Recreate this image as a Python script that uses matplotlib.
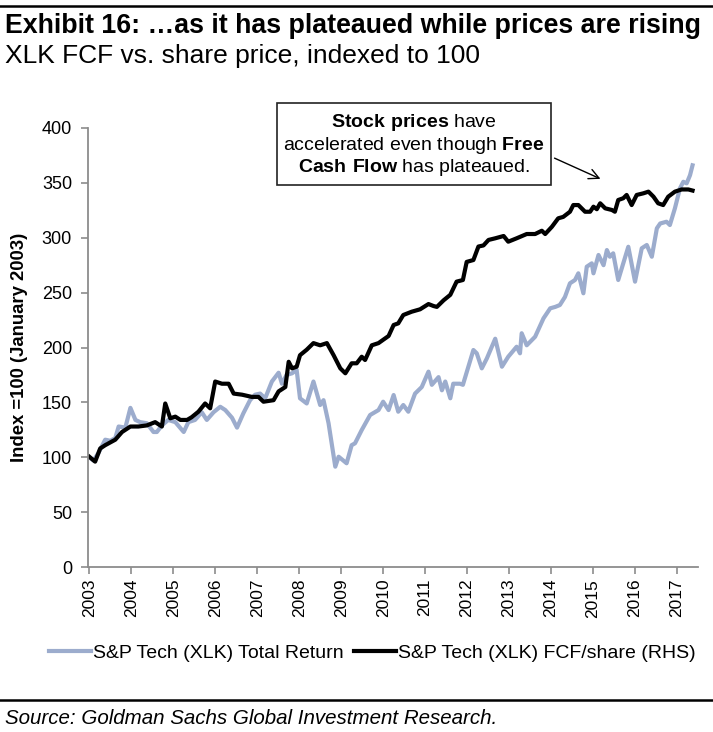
import matplotlib
matplotlib.use("Agg")
import matplotlib.pyplot as plt
from matplotlib.lines import Line2D
from matplotlib.patches import Rectangle

plt.rcParams["font.family"] = ["Liberation Sans", "DejaVu Sans"]
plt.rcParams["mathtext.fontset"] = "custom"
plt.rcParams["mathtext.rm"] = "Liberation Sans"
plt.rcParams["mathtext.bf"] = "Liberation Sans:bold"

# S&P Tech (XLK) Total Return, indexed to 100 (Jan 2003)
tr_dates = [2003.00, 2003.10, 2003.22, 2003.38, 2003.50, 2003.62, 2003.70, 2003.86, 2003.98,
            2004.10, 2004.21, 2004.37, 2004.53, 2004.61, 2004.73, 2004.88, 2005.05, 2005.25,
            2005.36, 2005.52, 2005.68, 2005.80, 2005.96, 2006.12, 2006.24, 2006.40, 2006.52,
            2006.67, 2006.83, 2006.95, 2007.07, 2007.19, 2007.35, 2007.51, 2007.59, 2007.70,
            2007.83, 2007.94, 2008.02, 2008.18, 2008.34, 2008.50, 2008.58, 2008.70, 2008.86,
            2008.94, 2009.13, 2009.25, 2009.33, 2009.49, 2009.69, 2009.89, 2010.00, 2010.13,
            2010.25, 2010.36, 2010.48, 2010.60, 2010.76, 2010.92, 2011.08, 2011.16, 2011.32,
            2011.40, 2011.48, 2011.60, 2011.67, 2011.83, 2011.90, 2012.15, 2012.23, 2012.35,
            2012.47, 2012.67, 2012.83, 2012.98, 2013.18, 2013.26, 2013.30, 2013.42, 2013.62,
            2013.82, 2013.98, 2014.10, 2014.21, 2014.33, 2014.45, 2014.57, 2014.65, 2014.77,
            2014.85, 2014.97, 2015.01, 2015.13, 2015.25, 2015.33, 2015.40, 2015.48, 2015.60,
            2015.72, 2015.84, 2016.00, 2016.16, 2016.28, 2016.40, 2016.52, 2016.60, 2016.75,
            2016.83, 2016.95, 2017.07, 2017.15, 2017.23, 2017.31, 2017.37]
tr_vals = [100, 97, 104, 116, 115, 117.5, 128, 127, 145,
           134, 132, 131, 123, 123, 129, 134, 132, 123,
           132, 134, 141, 134, 141, 146, 143, 136, 127,
           140, 152, 157, 158, 153.7, 169, 177, 167, 175,
           176.5, 179.5, 153.7, 149, 169, 147.6, 152, 131, 91.4,
           100.5, 94.5, 111, 112.7, 124.8, 138.5, 143, 150.6, 143,
           156.7, 141.5, 147.6, 141.5, 158, 164, 178, 166, 173,
           161, 169, 153.7, 167, 167, 166, 197.7, 194.7, 181,
           190, 208, 182.5, 191.6, 200.7, 194.7, 213, 202, 209.8,
           226.6, 235.7, 237, 238.7, 246, 258.5, 261.5, 267.6, 249.4,
           273.6, 276.7, 267.6, 284.3, 275, 288.8, 282.7, 285.8, 261.5,
           276.7, 291.8, 260, 290.4, 293.4, 282.7, 308.6, 313, 314.6,
           311.6, 326.8, 345, 351, 349.6, 357, 366]

# S&P Tech (XLK) FCF/share, indexed to 100 (Jan 2003)
fcf_dates = [2003.00, 2003.14, 2003.26, 2003.38, 2003.62, 2003.78, 2003.98, 2004.17, 2004.37,
             2004.57, 2004.73, 2004.81, 2004.93, 2005.05, 2005.17, 2005.33, 2005.44, 2005.60,
             2005.76, 2005.88, 2006.00, 2006.16, 2006.32, 2006.44, 2006.64, 2006.87, 2007.03,
             2007.15, 2007.39, 2007.51, 2007.67, 2007.75, 2007.83, 2007.94, 2008.02, 2008.18,
             2008.34, 2008.50, 2008.66, 2008.82, 2008.98, 2009.10, 2009.25, 2009.37, 2009.49,
             2009.57, 2009.73, 2009.89, 2010.00, 2010.13, 2010.25, 2010.36, 2010.48, 2010.68,
             2010.88, 2011.08, 2011.20, 2011.28, 2011.44, 2011.60, 2011.75, 2011.90, 2011.99,
             2012.15, 2012.27, 2012.39, 2012.51, 2012.67, 2012.87, 2012.98, 2013.18, 2013.42,
             2013.62, 2013.78, 2013.86, 2014.02, 2014.17, 2014.29, 2014.45, 2014.53, 2014.65,
             2014.81, 2014.93, 2015.01, 2015.09, 2015.17, 2015.29, 2015.45, 2015.52, 2015.60,
             2015.72, 2015.80, 2015.92, 2016.04, 2016.20, 2016.32, 2016.44, 2016.55, 2016.67,
             2016.79, 2016.95, 2017.11, 2017.27, 2017.37]
fcf_vals = [100.5, 96, 108, 111, 116, 123, 128, 128, 129,
            132, 128, 149, 135.5, 137, 134, 134, 136.5, 141.5,
            149, 144.6, 169, 167, 167, 158, 157, 155, 155,
            150.6, 152, 160, 164, 187, 181, 182.5, 193, 198,
            204, 202, 204, 193, 181, 176.5, 185.6, 185.6, 191.6,
            188.6, 202, 204, 207, 210.5, 220.5, 222, 229.6, 232.6,
            234.8, 239.6, 237.8, 237, 243, 248, 260, 261.5, 278,
            279.7, 292, 293, 298, 299.5, 301.6, 296.4, 299.5, 303.4,
            303.4, 306.4, 303.4, 310, 317.7, 319, 323.7, 329.8, 329.8,
            323.7, 323.7, 328.3, 326, 331.4, 326.8, 325.3, 323.7, 334.4,
            336, 339, 329.8, 339, 340.5, 342, 337.4, 331.4, 329.8,
            337.4, 342, 344, 344, 343]

years = list(range(2003, 2018))
yticks = list(range(0, 401, 50))

W, H = 713, 732
fig = plt.figure(figsize=(W / 100, H / 100), dpi=100)
ax = fig.add_axes([88 / W, 165 / H, 610 / W, 439 / H])

ax.plot(tr_dates, tr_vals, color="#9caccd", lw=3.0, label="S&P Tech (XLK) Total Return",
        solid_joinstyle="round")
ax.plot(fcf_dates, fcf_vals, color="black", lw=3.0, label="S&P Tech (XLK) FCF/share (RHS)",
        solid_joinstyle="round")

ax.set_xlim(2002.97, 2017.5)
ax.set_ylim(0, 400)
ax.set_xticks(years)
ax.set_xticklabels([str(y) for y in years], rotation=90, fontsize=12.5)
ax.set_yticks(yticks)
ax.set_yticklabels([str(v) for v in yticks], fontsize=13)
for s in ["top", "right"]:
    ax.spines[s].set_visible(False)
for s in ["left", "bottom"]:
    ax.spines[s].set_color("#8c8c8c")
    ax.spines[s].set_linewidth(1.3)
ax.tick_params(axis="both", colors="#8c8c8c", length=5, width=1.2, labelcolor="black")
ax.tick_params(axis="y", pad=6.5)
ax.set_ylabel("Index =100 (January 2003)", fontsize=13.3, fontweight="bold", labelpad=10)

ax.legend(loc="center", bbox_to_anchor=(0.466, -0.197), ncol=2, frameon=False,
          fontsize=14, handlelength=2.2, columnspacing=0.5, handletextpad=0.1)

# titles
fig.text(5 / W, 1 - 33 / H, "Exhibit 16: \u2026as it has plateaued while prices are rising",
         fontsize=19.3, fontweight="bold", va="baseline")
fig.text(5 / W, 1 - 63 / H, "XLK FCF vs. share price, indexed to 100",
         fontsize=19, va="baseline")
fig.add_artist(Line2D([0, 1], [1 - 6 / H, 1 - 6 / H], transform=fig.transFigure,
                      color="black", lw=1.8))

# annotation box
fig.add_artist(Rectangle((277 / W, 1 - 185 / H), 274 / W, 82 / H, transform=fig.transFigure,
                         fc="white", ec="#222222", lw=1.2, zorder=5))
note = (r"$\mathbf{Stock\ prices}$ have" + "\n"
        + r"accelerated even though $\mathbf{Free}$" + "\n"
        + r"$\mathbf{Cash\ Flow}$ has plateaued.")
fig.text(414 / W, 1 - 145 / H, note, fontsize=14, ha="center", va="center",
         multialignment="center", linespacing=1.1, zorder=6)
ax.annotate("", xy=(603, H - 180), xycoords="figure pixels",
            xytext=(552, H - 157), textcoords="figure pixels",
            arrowprops=dict(arrowstyle="->", color="black", lw=1.0,
                            mutation_scale=18))

# source footer
fig.add_artist(Line2D([0, 1], [1 - 700 / H, 1 - 700 / H], transform=fig.transFigure,
                      color="black", lw=1.8))
fig.text(5 / W, 1 - 724 / H, "Source: Goldman Sachs Global Investment Research.",
         fontsize=14.8, fontstyle="italic", va="baseline")

fig.savefig("out.png", dpi=100)
